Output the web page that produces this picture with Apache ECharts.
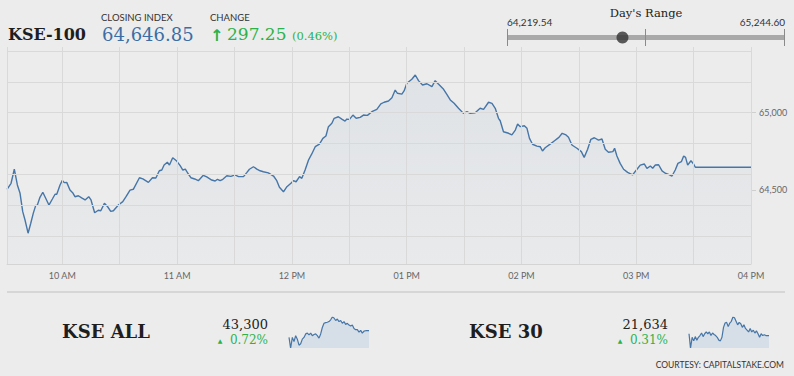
<!DOCTYPE html>
<html>
<head>
<meta charset="utf-8">
<script src="https://cdn.jsdelivr.net/npm/echarts@6/dist/echarts.min.js"></script>
<style>
html,body{margin:0;padding:0;background:#ececec;}
#c{width:794px;height:376px;}
</style>
</head>
<body>
<div id="c"></div>
<script>
// ---- data ----
const indexName = 'KSE-100';
const closingIndex = 64646.85;
const changeValue = 297.25;
const changePct = 0.46;
const dayLow = 64219.54;
const dayHigh = 65244.60;

// minutes after 09:30
const times = [1.1,3.2,4.9,6.5,7.9,9.3,10.5,12.1,13.5,14.8,
16.1,16.9,18.3,19.8,21.5,23.0,24.8,26.2,27.1,28.8,
30.0,31.0,32.3,34.0,35.4,36.6,38.4,40.1,41.9,43.8,
45.0,46.9,48.8,50.1,52.0,53.7,55.3,56.7,59.3,61.6,
63.3,65.4,67.1,70.3,72.1,75.0,77.1,78.9,80.7,82.0,
83.2,84.9,86.0,87.7,89.8,91.6,93.0,94.3,95.6,97.2,
99.2,101.1,103.7,105.5,108.1,109.9,111.1,112.5,113.9,116.0,
118.1,120.3,122.1,124.7,126.4,127.8,129.9,131.7,133.4,135.1,
137.7,140.4,142.1,143.5,145.6,147.4,149.5,150.8,152.2,154.0,
155.2,156.9,158.7,160.4,162.2,164.4,166.2,167.8,169.1,170.9,
172.1,174.3,176.1,177.8,178.7,180.1,181.9,183.6,185.7,187.4,
189.5,191.8,194.4,196.5,198.2,200.5,202.3,204.0,205.2,207.5,
208.7,210.1,212.7,214.5,216.2,218.3,220.6,223.2,224.9,226.6,
229.3,231.0,232.8,234.8,237.1,239.7,241.5,243.2,245.8,248.4,
250.2,252.8,254.6,256.3,258.0,258.9,260.6,263.3,265.0,266.8,
268.0,269.4,271.5,272.9,274.2,275.8,278.1,279.8,281.0,282.4,
285.0,287.3,288.9,289.9,291.3,293.3,294.6,296.4,299.0,301.3,
302.8,304.6,306.3,308.1,310.3,312.1,313.8,315.5,317.8,318.7,
319.9,321.6,323.4,325.5,328.1,330.4,332.1,334.2,335.6,337.4,
338.6,340.0,341.7,343.5,345.2,346.9,348.7,350.4,351.8,353.6,
354.8,355.8,356.9,358.6,360.0,360.9,390];

const kse100 = [64504,64543,64634,64532,64478,64359,64305,64219.54,64284,64348,
64400,64400,64452,64485,64441,64402,64441,64472,64472,64532,
64562,64547,64549,64499,64482,64456,64462,64448,64435,64456,
64435,64352,64368,64365,64413,64391,64361,64365,64402,64424,
64456,64499,64504,64579,64571,64549,64579,64577,64624,64629,
64661,64679,64661,64709,64687,64657,64629,64635,64608,64579,
64571,64560,64595,64584,64564,64558,64569,64560,64569,64592,
64588,64597,64586,64586,64612,64634,64650,64635,64624,64618,
64610,64590,64560,64517,64488,64521,64543,64560,64553,64586,
64575,64629,64694,64733,64780,64797,64834,64849,64910,64932,
64964,64974,64959,64946,64959,64957,64985,64964,64970,64985,
64983,65007,65022,65057,65068,65076,65097,65147,65126,65121,
65143,65191,65217,65244.6,65208,65180,65188,65169,65208,65186,
65152,65119,65083,65061,65029,64996,65007,64996,65000,65029,
65022,65068,65061,65029,64964,64948,64877,64867,64856,64888,
64927,64910,64916,64899,64834,64796,64784,64780,64752,64773,
64797,64819,64834,64845,64867,64856,64841,64791,64770,64748,
64711,64763,64828,64838,64823,64830,64763,64744,64748,64770,
64720,64672,64634,64614,64597,64634,64661,64668,64640,64655,
64640,64661,64663,64623,64608,64601,64590,64629,64672,64683,
64720,64711,64661,64689,64668,64646.85,64646.85];

const hourTicks = [30,90,150,210,270,330,390];
const hourLabels = ['10 AM','11 AM','12 PM','01 PM','02 PM','03 PM','04 PM'];
const halfHourGrid = [30,60,90,120,150,180,210,240,270,300,330,360,390];
const priceGrid = [64200,64400,64600,64800,65000,65200,65400];
const priceLabels = [64500,65000];

const kseAllName = 'KSE ALL';
const kseAllValue = 43300;
const kseAllPct = 0.72;
const kseAllSpark = [43158,42932,43158,43068,43195,43120,42992,43022,43120,43158,43232,43248,43210,43248,43195,43218,43232,43195,43142,43232,43368,43458,43472,43480,43495,43532,43592,43570,43518,43548,43495,43518,43458,43495,43435,43458,43420,43398,43420,43345,43322,43322,43270,43308,43248,43292,43300,43300,43300];

const kse30Name = 'KSE 30';
const kse30Value = 21634;
const kse30Pct = 0.31;
const kse30Spark = [21654,21494,21614,21574,21622,21582,21614,21634,21662,21622,21654,21674,21654,21674,21634,21662,21646,21634,21614,21582,21574,21614,21726,21774,21782,21734,21774,21794,21842,21834,21794,21754,21782,21766,21726,21754,21714,21694,21674,21714,21674,21694,21662,21686,21654,21614,21654,21634,21642,21634,21634,21634];

const courtesy = 'COURTESY: CAPITALSTAKE.COM';

// ---- helpers ----
function fmt(v, d) {
  const s = v.toFixed(d);
  const parts = s.split('.');
  parts[0] = parts[0].replace(/\B(?=(\d{3})+(?!\d))/g, ',');
  return parts.join('.');
}
const GREEN = '#2db24a';
const BLUE = '#3a6ea5';
const LINE = '#4676a8';
const SERIF = '"DejaVu Serif", serif';
const SANS = 'Lato, "Open Sans", sans-serif';

const mainData = times.map((t, i) => [t, kse100[i]]);
const sparkCats1 = kseAllSpark.map((_, i) => i);
const sparkCats2 = kse30Spark.map((_, i) => i);

const chart = echarts.init(document.getElementById('c'), null, {renderer: 'svg', width: 794, height: 376});

function txt(x, y, text, font, fill, align) {
  return {type: 'text', x: x, y: y, silent: true,
    style: {text: text, font: font, fill: fill, textAlign: align || 'left', textVerticalAlign: 'middle'}};
}

const option = {
  animation: false,
  backgroundColor: '#ececec',
  grid: [
    {left: 7, top: 47, width: 744, height: 217},
    {left: 507, top: 29, width: 277, height: 17},
    {left: 289, top: 317, width: 80, height: 31},
    {left: 689, top: 317, width: 80, height: 31}
  ],
  xAxis: [
    {gridIndex: 0, type: 'value', min: 1.08, max: 390,
      axisLine: {show: true, lineStyle: {color: '#d4d4d4', width: 1}},
      axisTick: {show: false},
      splitLine: {show: false},
      axisLabel: {customValues: hourTicks, margin: 7, color: '#666', fontSize: 9, fontFamily: SANS,
        formatter: v => hourLabels[hourTicks.indexOf(Math.round(v))] || ''}},
    {gridIndex: 1, type: 'value', min: dayLow, max: dayHigh, show: false},
    {gridIndex: 2, type: 'category', data: sparkCats1, boundaryGap: false, show: false},
    {gridIndex: 3, type: 'category', data: sparkCats2, boundaryGap: false, show: false}
  ],
  yAxis: [
    {gridIndex: 0, type: 'value', position: 'right', min: 64020, max: 65426,
      axisLine: {show: false},
      axisTick: {show: true, customValues: priceLabels, length: 5, lineStyle: {color: '#cfcfcf'}},
      splitLine: {show: false},
      axisLabel: {customValues: priceLabels, margin: 8, color: '#666', fontSize: 9, fontFamily: SANS,
        formatter: v => fmt(v, 0)}},
    {gridIndex: 1, type: 'value', min: 0, max: 1, show: false},
    {gridIndex: 2, type: 'value', min: 'dataMin', max: 'dataMax', show: false},
    {gridIndex: 3, type: 'value', min: 'dataMin', max: 'dataMax', show: false}
  ],
  series: [
    {type: 'line', xAxisIndex: 0, yAxisIndex: 0, data: [], z: 1, silent: true,
      markLine: {silent: true, symbol: ['none', 'none'], label: {show: false},
        lineStyle: {color: '#d9d9d9', width: 1, type: 'solid'},
        data: [{xAxis: 1.08}].concat(halfHourGrid.map(v => ({xAxis: v})), priceGrid.map(v => ({yAxis: v})))}},
    {type: 'line', xAxisIndex: 0, yAxisIndex: 0, data: mainData, z: 3, showSymbol: false, smooth: false,
      lineStyle: {color: LINE, width: 1.4},
      areaStyle: {origin: 'start', color: new echarts.graphic.LinearGradient(0, 0, 0, 1, [
        {offset: 0, color: 'rgba(90,130,175,0.13)'},
        {offset: 1, color: 'rgba(90,130,175,0.03)'}])}},
    // day's range slider
    {type: 'line', xAxisIndex: 1, yAxisIndex: 1, data: [], z: 1, silent: true,
      markLine: {silent: true, symbol: ['none', 'none'], label: {show: false},
        data: [
          {yAxis: 0.5, lineStyle: {color: '#a9a9a9', width: 5, type: 'solid'}},
          {xAxis: dayLow, lineStyle: {color: '#8a8a8a', width: 1, type: 'solid'}},
          {xAxis: (dayLow + dayHigh) / 2, lineStyle: {color: '#8a8a8a', width: 1, type: 'solid'}},
          {xAxis: dayHigh, lineStyle: {color: '#8a8a8a', width: 1, type: 'solid'}}
        ]}},
    {type: 'scatter', xAxisIndex: 1, yAxisIndex: 1, data: [[closingIndex, 0.5]], z: 5, symbolSize: 12,
      itemStyle: {color: '#333'}, silent: true},
    // sparklines
    {type: 'line', xAxisIndex: 2, yAxisIndex: 2, data: kseAllSpark, showSymbol: false,
      lineStyle: {color: LINE, width: 1.2}, areaStyle: {origin: 'start', color: '#d6dee8', opacity: 1}},
    {type: 'line', xAxisIndex: 3, yAxisIndex: 3, data: kse30Spark, showSymbol: false,
      lineStyle: {color: LINE, width: 1.2}, areaStyle: {origin: 'start', color: '#d6dee8', opacity: 1}}
  ],
  graphic: [
    txt(8, 34, indexName, 'bold 16px ' + SERIF, '#1e1e1e'),
    txt(101, 17.5, 'CLOSING INDEX', '9.5px ' + SANS, '#333'),
    txt(102, 34, fmt(closingIndex, 2), '18px ' + SERIF, BLUE),
    txt(210, 17.5, 'CHANGE', '9.5px ' + SANS, '#333'),
    txt(210, 35, '\u2191', 'bold 16px "DejaVu Sans", sans-serif', GREEN),
    txt(227, 34, fmt(changeValue, 2), '17px ' + SERIF, GREEN),
    txt(292, 36, '(' + changePct.toFixed(2) + '%)', '11.5px ' + SERIF, GREEN),
    txt(646, 13, "Day's Range", '11.5px ' + SERIF, '#222', 'center'),
    txt(507, 22, fmt(dayLow, 2), '10px ' + SANS, '#333'),
    txt(785, 22, fmt(dayHigh, 2), '10px ' + SANS, '#333', 'right'),
    {type: 'line', silent: true, shape: {x1: 7, y1: 292, x2: 785, y2: 292}, style: {stroke: '#cfcfcf', lineWidth: 1.5}},
    txt(62, 331, kseAllName, 'bold 18px ' + SERIF, '#1e1e1e'),
    txt(268, 324, fmt(kseAllValue, 0), '13px ' + SERIF, '#222', 'right'),
    txt(220, 340, '\u25B2', '6px "DejaVu Sans", sans-serif', GREEN, 'center'),
    txt(268, 340, kseAllPct.toFixed(2) + '%', '12px ' + SERIF, GREEN, 'right'),
    txt(469, 331, kse30Name, 'bold 18px ' + SERIF, '#1e1e1e'),
    txt(668, 324, fmt(kse30Value, 0), '13px ' + SERIF, '#222', 'right'),
    txt(620, 340, '\u25B2', '6px "DejaVu Sans", sans-serif', GREEN, 'center'),
    txt(668, 340, kse30Pct.toFixed(2) + '%', '12px ' + SERIF, GREEN, 'right'),
    txt(784, 365, courtesy, '8.5px ' + SANS, '#333', 'right')
  ]
};
chart.setOption(option);
</script>
</body>
</html>
